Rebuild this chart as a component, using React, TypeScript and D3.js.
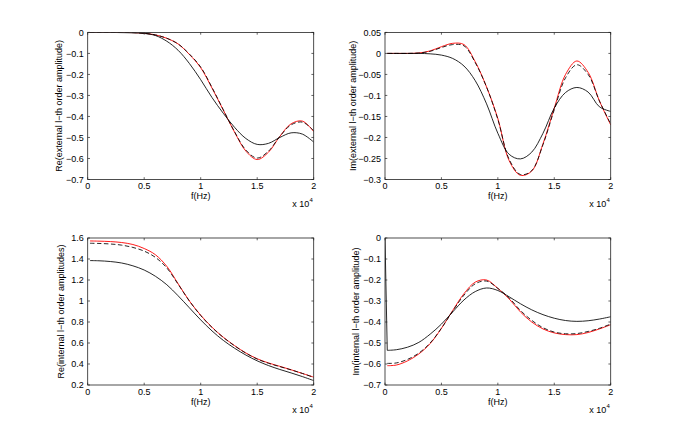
import React from "react";
import * as d3 from "d3";

// frequency grid (Hz)
const freqHz = [200, 1000, 2000, 3000, 4000, 5000, 6000, 7000, 8000, 9000, 10000, 11000, 12000, 13000, 14000, 15000, 16000, 17000, 18000, 19000, 20000];

// Re(external l-th order amplitude)
const reExtRed = [0, 0, 0, 0, -0.001, -0.004, -0.012, -0.028, -0.055, -0.105, -0.168, -0.265, -0.37, -0.475, -0.565, -0.605, -0.57, -0.495, -0.435, -0.422, -0.472];
const reExtDashed = [0, 0, 0, 0, -0.001, -0.004, -0.012, -0.028, -0.055, -0.103, -0.165, -0.262, -0.368, -0.473, -0.56, -0.598, -0.565, -0.495, -0.44, -0.427, -0.468];
const reExtSolid = [0, 0, 0, -0.001, -0.002, -0.005, -0.015, -0.042, -0.085, -0.148, -0.225, -0.31, -0.385, -0.452, -0.505, -0.533, -0.528, -0.5, -0.478, -0.484, -0.522];

// Im(external l-th order amplitude)
const imExtRed = [0, 0, 0, 0.001, 0.006, 0.016, 0.024, 0.021, -0.02, -0.08, -0.155, -0.255, -0.29, -0.28, -0.215, -0.13, -0.05, -0.018, -0.045, -0.113, -0.17];
const imExtDashed = [0, 0, 0, 0.001, 0.005, 0.014, 0.021, 0.018, -0.022, -0.08, -0.157, -0.252, -0.288, -0.279, -0.217, -0.134, -0.058, -0.027, -0.05, -0.113, -0.168];
const imExtSolid = [0, 0, 0, 0, -0.001, -0.004, -0.012, -0.03, -0.065, -0.12, -0.19, -0.24, -0.251, -0.235, -0.19, -0.13, -0.093, -0.081, -0.092, -0.127, -0.138];

// Re(internal l-th order amplitudes)
const reIntRed = [1.572, 1.57, 1.566, 1.557, 1.538, 1.5, 1.44, 1.33, 1.165, 1.0, 0.865, 0.75, 0.655, 0.575, 0.505, 0.45, 0.41, 0.378, 0.345, 0.31, 0.275];
const reIntDashed = [1.55, 1.548, 1.543, 1.532, 1.51, 1.475, 1.415, 1.315, 1.16, 1.0, 0.862, 0.748, 0.653, 0.573, 0.503, 0.447, 0.407, 0.375, 0.344, 0.31, 0.273];
const reIntSolid = [1.385, 1.383, 1.376, 1.362, 1.335, 1.295, 1.235, 1.155, 1.05, 0.935, 0.82, 0.715, 0.625, 0.55, 0.485, 0.43, 0.385, 0.348, 0.315, 0.28, 0.242];

// Im(internal l-th order amplitude)
const imIntRed = [-0.608, -0.605, -0.585, -0.552, -0.503, -0.43, -0.345, -0.265, -0.21, -0.2, -0.24, -0.29, -0.352, -0.4, -0.433, -0.452, -0.46, -0.46, -0.45, -0.433, -0.413];
const imIntDashed = [-0.597, -0.595, -0.578, -0.548, -0.5, -0.43, -0.348, -0.272, -0.218, -0.205, -0.24, -0.285, -0.345, -0.392, -0.427, -0.448, -0.456, -0.455, -0.445, -0.43, -0.41];
const imIntSolid = [-0.535, -0.532, -0.52, -0.497, -0.458, -0.41, -0.352, -0.295, -0.255, -0.238, -0.25, -0.28, -0.313, -0.342, -0.365, -0.382, -0.393, -0.397, -0.394, -0.386, -0.375];
const imIntSolidAtZero = 0;

// ticks
const xTicks = [0, 5000, 10000, 15000, 20000];
const xTickLabels = ["0", "0.5", "1", "1.5", "2"];
const reExtTicks = [0, -0.1, -0.2, -0.3, -0.4, -0.5, -0.6, -0.7];
const reExtTickLabels = ["0", "\u22120.1", "\u22120.2", "\u22120.3", "\u22120.4", "\u22120.5", "\u22120.6", "\u22120.7"];
const imExtTicks = [0.05, 0, -0.05, -0.1, -0.15, -0.2, -0.25, -0.3];
const imExtTickLabels = ["0.05", "0", "\u22120.05", "\u22120.1", "\u22120.15", "\u22120.2", "\u22120.25", "\u22120.3"];
const reIntTicks = [0.2, 0.4, 0.6, 0.8, 1, 1.2, 1.4, 1.6];
const reIntTickLabels = ["0.2", "0.4", "0.6", "0.8", "1", "1.2", "1.4", "1.6"];
const imIntTicks = [0, -0.1, -0.2, -0.3, -0.4, -0.5, -0.6, -0.7];
const imIntTickLabels = reExtTickLabels;

const FONT = "'Liberation Sans', Arial, Helvetica, sans-serif";

type PanelProps = {
  left: number; right: number; top: number; bottom: number;
  yDomain: [number, number];
  yTicks: number[]; yTickLabels: string[];
  yLabel: string; yLabelX: number;
  red: number[]; dashed: number[]; solid: number[];
  solidLead?: number;
};

function Panel(p: PanelProps) {
  const x = d3.scaleLinear().domain([0, 20000]).range([p.left, p.right]);
  const y = d3.scaleLinear().domain(p.yDomain).range([p.bottom, p.top]);
  const line = d3.line<[number, number]>()
    .x(d => x(d[0]))
    .y(d => y(d[1]))
    .curve(d3.curveCatmullRom.alpha(0.5));
  const straight = d3.line<[number, number]>().x(d => x(d[0])).y(d => y(d[1]));
  const pts = (vals: number[]) => freqHz.map((f, i) => [f, vals[i]] as [number, number]);
  const tl = 2.3;
  const axisColor = "#222";
  const cx = (p.left + p.right) / 2;
  const cy = (p.top + p.bottom) / 2;
  const clipId = `clip-${Math.round(p.left)}-${Math.round(p.top)}`;
  return (
    <g>
      <defs>
        <clipPath id={clipId}>
          <rect x={p.left} y={p.top} width={p.right - p.left} height={p.bottom - p.top} />
        </clipPath>
      </defs>
      <g clipPath={`url(#${clipId})`}>
        <path d={line(pts(p.red)) || ""} fill="none" stroke="#ff0000" strokeWidth={0.9} />
        <path d={line(pts(p.solid)) || ""} fill="none" stroke="#000" strokeWidth={0.85} />
        {p.solidLead !== undefined && (
          <path
            d={straight([[0, p.solidLead], [freqHz[0], p.solid[0]]]) || ""}
            fill="none" stroke="#000" strokeWidth={0.85}
          />
        )}
        <path d={line(pts(p.dashed)) || ""} fill="none" stroke="#000" strokeWidth={0.85} strokeDasharray="4.5,2.5" />
      </g>
      <rect x={p.left} y={p.top} width={p.right - p.left} height={p.bottom - p.top} fill="none" stroke={axisColor} strokeWidth={0.8} />
      {xTicks.map((t, i) => (
        <g key={"xt" + i}>
          <line x1={x(t)} x2={x(t)} y1={p.bottom} y2={p.bottom - tl} stroke={axisColor} strokeWidth={0.7} />
          <line x1={x(t)} x2={x(t)} y1={p.top} y2={p.top + tl} stroke={axisColor} strokeWidth={0.7} />
          <text x={x(t)} y={p.bottom + 9.5} fontSize={9} fontFamily={FONT} textAnchor="middle" fill="#000">{xTickLabels[i]}</text>
        </g>
      ))}
      {p.yTicks.map((t, i) => (
        <g key={"yt" + i}>
          <line x1={p.left} x2={p.left + tl} y1={y(t)} y2={y(t)} stroke={axisColor} strokeWidth={0.7} />
          <line x1={p.right} x2={p.right - tl} y1={y(t)} y2={y(t)} stroke={axisColor} strokeWidth={0.7} />
          <text x={p.left - 4} y={y(t)} dy="0.35em" fontSize={9} fontFamily={FONT} textAnchor="end" fill="#000">{p.yTickLabels[i]}</text>
        </g>
      ))}
      <text x={cx} y={p.bottom + 19.8} fontSize={9} fontFamily={FONT} textAnchor="middle" fill="#000">f(Hz)</text>
      <text x={p.right - 4.5} y={p.bottom + 27.5} fontSize={9} fontFamily={FONT} textAnchor="end" fill="#000">x 10</text>
      <text x={p.right - 4.3} y={p.bottom + 22.8} fontSize={6} fontFamily={FONT} textAnchor="start" fill="#000">4</text>
      <text transform={`translate(${p.yLabelX},${cy}) rotate(-90)`} dy="0.35em" fontSize={9} fontFamily={FONT} textAnchor="middle" fill="#000">{p.yLabel}</text>
    </g>
  );
}

export default function App() {
  const L1 = 87.7, R1 = 313.7, L2 = 385, R2 = 610.7;
  const T1 = 32.4, B1 = 179.5, T2 = 238, B2 = 385;
  return (
    <svg width={675} height={434} style={{ position: "absolute", left: 0, top: 0, background: "#fff" }}>
      <rect x={0} y={0} width={675} height={434} fill="#fff" />
      <Panel left={L1} right={R1} top={T1} bottom={B1} yDomain={[-0.7, 0]}
        yTicks={reExtTicks} yTickLabels={reExtTickLabels}
        yLabel="Re(external l−th order amplitude)" yLabelX={59}
        red={reExtRed} dashed={reExtDashed} solid={reExtSolid} />
      <Panel left={L2} right={R2} top={T1} bottom={B1} yDomain={[-0.3, 0.05]}
        yTicks={imExtTicks} yTickLabels={imExtTickLabels}
        yLabel="Im(external l−th order amplitude)" yLabelX={353}
        red={imExtRed} dashed={imExtDashed} solid={imExtSolid} />
      <Panel left={L1} right={R1} top={T2} bottom={B2} yDomain={[0.2, 1.6]}
        yTicks={reIntTicks} yTickLabels={reIntTickLabels}
        yLabel="Re(internal l−th order amplitudes)" yLabelX={61}
        red={reIntRed} dashed={reIntDashed} solid={reIntSolid} />
      <Panel left={L2} right={R2} top={T2} bottom={B2} yDomain={[-0.7, 0]}
        yTicks={imIntTicks} yTickLabels={imIntTickLabels}
        yLabel="Im(internal l−th order amplitude)" yLabelX={356}
        red={imIntRed} dashed={imIntDashed} solid={imIntSolid} solidLead={imIntSolidAtZero} />
    </svg>
  );
}
